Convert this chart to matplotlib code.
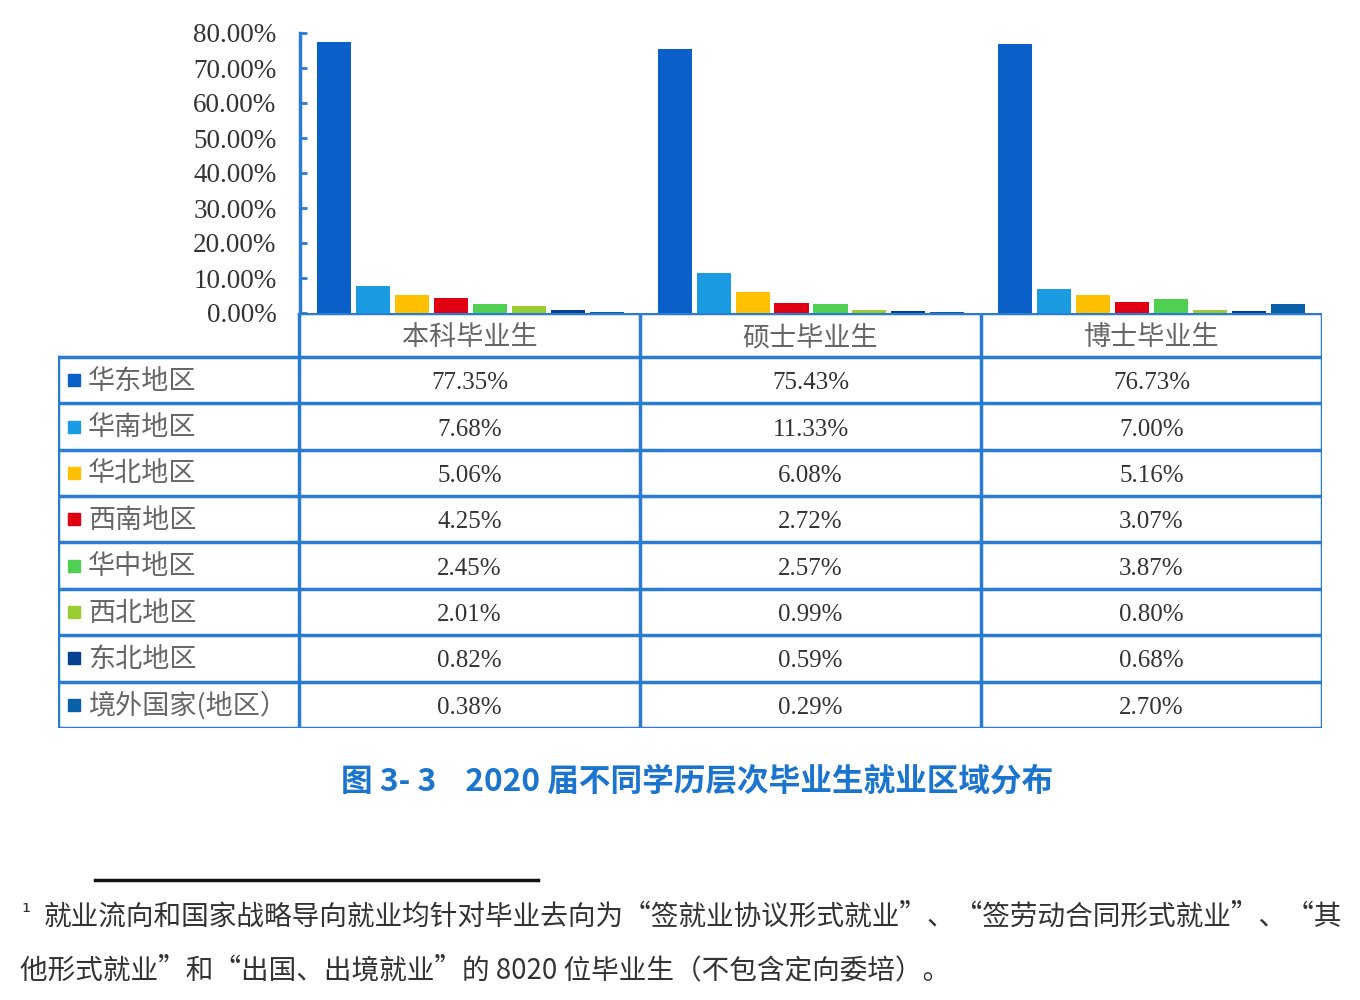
import matplotlib
matplotlib.use("Agg")
import matplotlib.pyplot as plt
import numpy as np

# ---------------- data ----------------
groups = ["本科毕业生", "硕士毕业生", "博士毕业生"]
regions = ["华东地区", "华南地区", "华北地区", "西南地区", "华中地区", "西北地区", "东北地区", "境外国家(地区）"]
east      = [77.35, 75.43, 76.73]
south     = [7.68, 11.33, 7.00]
north     = [5.06, 6.08, 5.16]
southwest = [4.25, 2.72, 3.07]
central   = [2.45, 2.57, 3.87]
northwest = [2.01, 0.99, 0.80]
northeast = [0.82, 0.59, 0.68]
abroad    = [0.38, 0.29, 2.70]
series = [east, south, north, southwest, central, northwest, northeast, abroad]
colors = ["#0a60c8", "#1a9be2", "#ffc000", "#e00012", "#4fd052", "#9acd32", "#053f8f", "#0b5ea8"]
yticks = [0, 10, 20, 30, 40, 50, 60, 70, 80]

title = "图 3- 3    2020 届不同学历层次毕业生就业区域分布"
foot1 = "就业流向和国家战略导向就业均针对毕业去向为“签就业协议形式就业”、“签劳动合同形式就业”、“其"
foot2 = "他形式就业”和“出国、出境就业”的 8020 位毕业生（不包含定向委培）。"

W, H = 1360, 1000
fig = plt.figure(figsize=(W / 100, H / 100), dpi=100)
fig.patch.set_facecolor("white")

LINE = "#2a7bd2"
CJK = ["Noto Sans CJK SC", "DejaVu Sans"]
SERIF = ["Liberation Serif", "DejaVu Serif"]

def fx(px):
    return px / W

def fy(py):
    return 1 - py / H

# ---------------- bar axes ----------------
x0, x1, ytop, ybot = 300, 1322, 33, 313
ax = fig.add_axes([fx(x0), fy(ybot), fx(x1) - fx(x0), fy(ytop) - fy(ybot)])
n = len(series)
step = 0.1144
width = 0.1
xc = np.arange(len(groups)) + 0.5
for i, (vals, c) in enumerate(zip(series, colors)):
    ax.bar(xc + (i - (n - 1) / 2) * step, vals, width=width, color=c, zorder=2)
ax.set_xlim(0, 3)
ax.set_ylim(0, 80)
ax.set_yticks(yticks)
ax.set_yticklabels([f"{v:.2f}%" for v in yticks], fontfamily=SERIF, fontsize=19.5, color="#333333")
ax.tick_params(axis="y", direction="in", length=5, width=2, color=LINE, pad=17)
ax.set_xticks([])
for s in ["top", "right"]:
    ax.spines[s].set_visible(False)
ax.spines["left"].set_color(LINE)
ax.spines["left"].set_linewidth(2.5)
ax.spines["bottom"].set_visible(False)
ax.patch.set_alpha(0)

# ---------------- table ----------------
tx0, tx1, ty0, ty1 = 58, 1322, 313, 728
tab = fig.add_axes([fx(tx0), fy(ty1), fx(tx1) - fx(tx0), fy(ty0) - fy(ty1)])
tab.set_xlim(tx0, tx1)
tab.set_ylim(ty1, ty0)
tab.axis("off")

col_x = [299, 640, 981, 1322]
header_bottom = 357
row_h = (ty1 - header_bottom) / len(regions)
row_y = [header_bottom + k * row_h for k in range(len(regions) + 1)]
lw = 2.5
tab.plot([299, 1322], [ty0, ty0], color=LINE, lw=lw, solid_capstyle="projecting")
for yy in row_y:
    tab.plot([tx0, tx1], [yy, yy], color=LINE, lw=lw, solid_capstyle="projecting")
tab.plot([tx0, tx0], [header_bottom, ty1], color=LINE, lw=lw, solid_capstyle="projecting")
for cx in col_x:
    tab.plot([cx, cx], [ty0, ty1], color=LINE, lw=lw, solid_capstyle="projecting")

for g, name in enumerate(groups):
    cx = (col_x[g] + col_x[g + 1]) / 2
    tab.text(cx, (ty0 + header_bottom) / 2 + 3, name, ha="center", va="center",
             fontfamily=CJK, fontsize=19.5, color="#666666")

for r, (reg, vals, c) in enumerate(zip(regions, series, colors)):
    cy = (row_y[r] + row_y[r + 1]) / 2
    tab.add_patch(plt.Rectangle((68, cy - 6), 12, 12, color=c))
    tab.text(88, cy + 1, reg, ha="left", va="center", fontfamily=CJK, fontsize=19.5, color="#666666")
    for g in range(len(groups)):
        cx = (col_x[g] + col_x[g + 1]) / 2
        tab.text(cx, cy + 3, f"{vals[g]:.2f}%", ha="center", va="center",
                 fontfamily=SERIF, fontsize=18, color="#333333")

# ---------------- caption & footnote ----------------
fig.text(fx(697), fy(782), title, ha="center", va="center", fontfamily=CJK,
         fontsize=22.8, fontweight="bold", color="#1b75cf")

fig.add_artist(plt.Line2D([fx(95), fx(538)], [fy(880), fy(880)], color="#111111", lw=2.5))
fig.text(fx(21), fy(913), "¹", ha="left", va="center", fontfamily=["DejaVu Sans"],
         fontsize=16, color="#333333")
fig.text(fx(44), fy(917), foot1, ha="left", va="center", fontfamily=CJK,
         fontsize=19.9, color="#333333")
fig.text(fx(20), fy(970), foot2, ha="left", va="center", fontfamily=CJK,
         fontsize=19.9, color="#333333")

fig.savefig("out.png", dpi=100, facecolor="white")
